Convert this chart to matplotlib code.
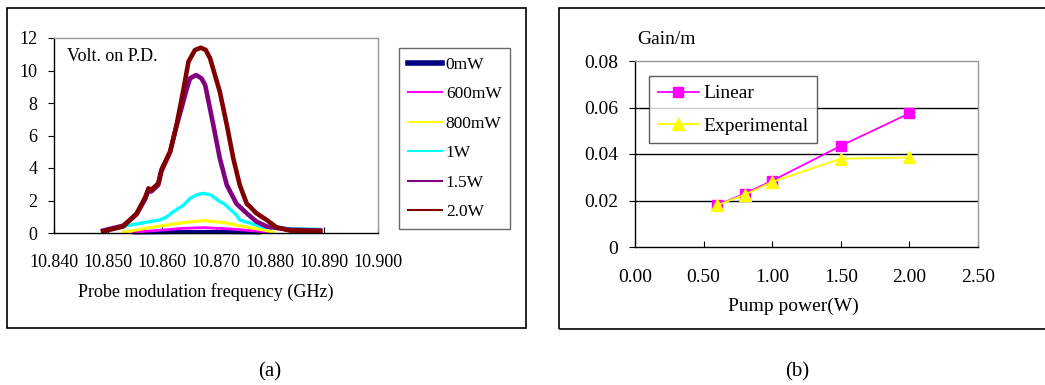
import matplotlib
matplotlib.use("Agg")
import matplotlib.pyplot as plt
from matplotlib.patches import Rectangle

plt.rcParams["font.family"] = ["Liberation Serif", "DejaVu Serif"]

# (a) probe spectra
x_0mw = [10.8550, 10.8600, 10.8650, 10.8700, 10.8750, 10.8780]
y_0mw = [0.04, 0.05, 0.06, 0.06, 0.05, 0.04]
x_600 = [10.8547, 10.8590, 10.8640, 10.8677, 10.8726, 10.8775, 10.8800]
y_600 = [0.05, 0.15, 0.29, 0.33, 0.25, 0.12, 0.03]
x_800 = [10.8528, 10.8590, 10.8640, 10.8677, 10.8714, 10.8751, 10.8794, 10.8806]
y_800 = [0.05, 0.40, 0.64, 0.76, 0.64, 0.40, 0.15, 0.05]
x_1w = [10.8490, 10.8541, 10.8578, 10.8596, 10.8609, 10.8621, 10.8640, 10.8652, 10.8665,
        10.8677, 10.8690, 10.8707, 10.8714, 10.8738, 10.8744, 10.8788, 10.8837, 10.8893]
y_1w = [0.10, 0.49, 0.70, 0.80, 1.00, 1.31, 1.72, 2.13, 2.36, 2.44, 2.35, 1.93, 1.83,
        1.10, 0.80, 0.35, 0.27, 0.22]
x_15w = [10.8491, 10.8528, 10.8553, 10.8569, 10.8575, 10.8580, 10.8593, 10.8599, 10.8615,
         10.8627, 10.8636, 10.8646, 10.8652, 10.8663, 10.8673, 10.8680, 10.8695, 10.8707,
         10.8720, 10.8738, 10.8757, 10.8775, 10.8794, 10.8837, 10.8893]
y_15w = [0.15, 0.45, 1.15, 2.10, 2.65, 2.55, 2.95, 3.80, 5.00, 6.60, 7.67, 8.90, 9.52,
         9.72, 9.52, 9.10, 6.65, 4.60, 2.95, 1.80, 1.21, 0.70, 0.40, 0.20, 0.15]
x_2w = [10.8491, 10.8528, 10.8553, 10.8569, 10.8575, 10.8580, 10.8593, 10.8599, 10.8615,
        10.8627, 10.8639, 10.8649, 10.8661, 10.8672, 10.8681, 10.8689, 10.8707, 10.8720,
        10.8732, 10.8744, 10.8757, 10.8763, 10.8775, 10.8794, 10.8812, 10.8837, 10.8893]
y_2w = [0.10, 0.40, 1.20, 2.20, 2.75, 2.65, 3.05, 3.90, 5.00, 6.65, 8.70, 10.54, 11.26,
        11.40, 11.26, 10.75, 8.70, 6.65, 4.60, 2.95, 1.80, 1.62, 1.21, 0.80, 0.35, 0.15,
        0.12]

# (b) gain vs pump power
pump = [0.6, 0.8, 1.0, 1.5, 2.0]
gain_linear = [0.018, 0.023, 0.0285, 0.0435, 0.0575]
gain_exp = [0.018, 0.0225, 0.028, 0.038, 0.0385]

W, H = 1045, 385
fig = plt.figure(figsize=(W / 100, H / 100), dpi=100)


def box(x0, y0, x1, y1):
    return [x0 / W, 1 - y1 / H, (x1 - x0) / W, (y1 - y0) / H]


# outer frames
fig.patches.append(Rectangle((7 / W, 1 - 328 / H), (526 - 7) / W, (328 - 8) / H,
                             transform=fig.transFigure, fill=False, ec="black", lw=1.2))
fig.patches.append(Rectangle((559 / W, 1 - 329 / H), (1060 - 559) / W, (329 - 8) / H,
                             transform=fig.transFigure, fill=False, ec="black", lw=1.2,
                             clip_on=False))


def style(ax, fs):
    for s in ["top", "right"]:
        ax.spines[s].set_color("#999999")
    for s in ["left", "bottom"]:
        ax.spines[s].set_color("black")
    for s in ax.spines.values():
        s.set_linewidth(1.0)
    ax.tick_params(axis="y", direction="out", length=4, labelsize=fs, pad=8)
    ax.tick_params(axis="x", direction="in", length=4, labelsize=fs, pad=15)


# ---- (a)
ax = fig.add_axes(box(54, 38, 378, 233))
series = [
    (x_0mw, y_0mw, "#000080", 3.0, "0mW"),
    (x_600, y_600, "#FF00FF", 2.0, "600mW"),
    (x_800, y_800, "#FFFF00", 2.2, "800mW"),
    (x_1w, y_1w, "#00FFFF", 2.4, "1W"),
    (x_15w, y_15w, "#800080", 3.3, "1.5W"),
    (x_2w, y_2w, "#800000", 3.3, "2.0W"),
]
for xs, ys, c, lw, lab in series:
    ax.plot(xs, ys, color=c, lw=lw, label=lab, clip_on=False, solid_joinstyle="round")
ax.set_xlim(10.84, 10.90)
ax.set_ylim(0, 12)
ax.set_xticks([10.84, 10.85, 10.86, 10.87, 10.88, 10.89, 10.90])
ax.set_xticklabels(["10.840", "10.850", "10.860", "10.870", "10.880", "10.890", "10.900"])
ax.set_yticks(range(0, 13, 2))
style(ax, 13)
ax.text(0.04, 0.95, "Volt. on P.D.", transform=ax.transAxes, fontsize=13, va="top")
fig.text(206 / W, 1 - 292 / H, "Probe modulation frequency (GHz)", fontsize=13,
         ha="center", va="center")
leg = ax.legend(loc="upper left", bbox_to_anchor=(399 / W, 1 - 48 / H),
                bbox_transform=fig.transFigure, fontsize=12.5, frameon=True, fancybox=False,
                edgecolor="#444444", handlelength=2.0, handletextpad=0.2,
                labelspacing=0.77, borderpad=0.5, borderaxespad=0)
leg.get_frame().set_linewidth(1.0)
for h, (_, _, _, lw, lab) in zip(leg.get_lines(), series):
    h.set_linewidth(4 if lab == "0mW" else 1.5)

# ---- (b)
bx = fig.add_axes(box(635, 61, 978, 247))
bx.set_xlim(0, 2.5)
bx.set_ylim(0, 0.08)
for g in [0.02, 0.04, 0.06]:
    bx.axhline(g, color="black", lw=1.0, zorder=0)
bx.plot(pump, gain_linear, color="#FF00FF", marker="s", ms=7, lw=1.3, label="Linear")
bx.plot(pump, gain_exp, color="#FFFF00", marker="^", ms=8, lw=1.3, label="Experimental")
bx.set_xticks([0, 0.5, 1.0, 1.5, 2.0, 2.5])
bx.set_xticklabels(["0.00", "0.50", "1.00", "1.50", "2.00", "2.50"])
bx.set_yticks([0, 0.02, 0.04, 0.06, 0.08])
bx.set_yticklabels(["0", "0.02", "0.04", "0.06", "0.08"])
style(bx, 14)
bx.tick_params(axis="x", pad=16)
fig.text(793 / W, 1 - 306 / H, "Pump power(W)", fontsize=14, ha="center", va="center")
fig.text(637 / W, 1 - 39 / H, "Gain/m", fontsize=14, va="center", ha="left")
leg2 = bx.legend(loc="upper left", bbox_to_anchor=(649 / W, 1 - 76 / H),
                 bbox_transform=fig.transFigure, fontsize=14, frameon=True, fancybox=False,
                 edgecolor="#333333", handlelength=2.1, handletextpad=0.25,
                 labelspacing=0.75, borderpad=0.45, borderaxespad=0)
leg2.get_frame().set_linewidth(1.0)

# captions
fig.text(270 / W, 1 - 372 / H, "(a)", fontsize=15, ha="center", va="center")
fig.text(797 / W, 1 - 372 / H, "(b)", fontsize=15, ha="center", va="center")

fig.savefig("out.png", dpi=100)
